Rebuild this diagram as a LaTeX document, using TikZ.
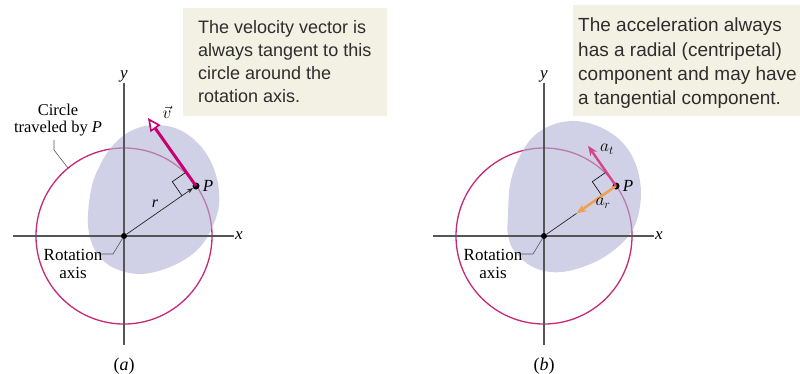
\documentclass[tikz,border=0pt]{standalone}
\usepackage{fontspec}
\setmainfont{Liberation Serif}
\newfontfamily\boxfont{Liberation Sans}
\usetikzlibrary{arrows.meta}
\definecolor{blobc}{RGB}{177,178,213}
\definecolor{boxc}{RGB}{242,241,228}
\definecolor{circc}{RGB}{198,40,118}
\definecolor{velc}{RGB}{200,0,110}
\definecolor{atc}{RGB}{212,70,140}
\definecolor{arcol}{RGB}{240,160,80}
\definecolor{axc}{RGB}{85,85,85}
\definecolor{txtc}{RGB}{45,45,45}
\begin{document}
\begin{tikzpicture}[x=1pt,y=-1pt,
  orbit/.style={draw=circc,line width=1.3pt},
  blob/.style={fill=blobc,fill opacity=0.6},
  axisline/.style={draw=axc,line width=1.1pt},
  axlabel/.style={font=\fontsize{17}{17}\selectfont\itshape,inner sep=1.5pt},
  dot/.style={circle,fill=black,inner sep=0pt,minimum size=7pt},
  odot/.style={circle,fill=black,inner sep=0pt,minimum size=6pt},
  lbl/.style={font=\fontsize{16.5}{17}\selectfont,align=center,inner sep=0pt},
  leader/.style={draw=axc,line width=0.6pt},
  infobox/.style={fill=boxc,draw=none},
  infotext/.style={font=\boxfont,text=txtc,align=left,inner sep=0pt,anchor=north west},
  ralign/.style={draw=black,line width=0.6pt},
  radius vec/.style={draw=black!85,line width=0.7pt},
  captionlbl/.style={font=\fontsize{18}{18}\selectfont,inner sep=0pt},
]
\useasboundingbox (0,0) rectangle (800,373);

% ================= panel (a) =================
\coordinate (Oa) at (124,236);
\draw[orbit] (Oa) circle[radius=88pt];
\fill[blob] plot[smooth cycle,tension=0.6] coordinates {
 (88,225) (91,190) (100,165) (115,143) (135,129) (158,125) (182,131) (203,149)
 (216,175) (219,205) (210,232) (195,252) (170,267) (140,274) (112,267) (95,250)};
\node[axlabel] (xa) at (239,236) {x};
\node[axlabel] (ya) at (124,76) {y};
\coordinate (xaL) at (13,236);
\coordinate (yaB) at (124,345);
\draw[axisline] (xaL) -- (xa);
\draw[axisline] (ya) -- (yaB);
\node[odot] (Oad) at (Oa) {};
\node[dot] (Pa) at (196,186) {};
\node[font=\fontsize{17}{17}\selectfont\itshape,inner sep=0pt] (PaL) at (208,186) {P};
\coordinate (va) at (148,118);
\draw[ralign] (186.3,172.0) -- (172.3,181.7) -- (182.0,195.7);
\draw[radius vec,-{Stealth[length=6pt,width=4.5pt]}] (Oad) -- (Pa);
\node[font=\fontsize{16}{16}\selectfont\itshape,inner sep=0pt] (ra) at (155,204) {r};
\draw[velc,line width=3pt,-{Triangle[open,fill=white,line width=1.6pt,length=13pt,width=12pt]}] (Pa.center) -- (va);
\node[inner sep=0pt,font=\fontsize{17}{17}\selectfont] (vl) at (167,112) {$\vec{v}$};
% labels
\node[lbl] (cla) at (58,120) {Circle\\traveled by \textit{P}};
\coordinate (cla1) at (54,150);
\coordinate (cla2) at (68,168);
\draw[leader] (cla.south -| cla1) ++(0,4) -- (cla1) -- (cla2);
\node[lbl,font=\fontsize{17}{18}\selectfont] (rla) at (73,264) {Rotation\\axis};
\coordinate (rla1) at (113,254);
\draw[leader] (rla.east |- rla1) ++(-1,0) -- (rla1) -- (Oad);
\node[captionlbl] (capa) at (124,366) {(\textit{a})};
% info box
\node[infobox,minimum width=204pt,minimum height=108pt,anchor=north west,inner sep=0pt] (boxa) at (183,8) {};
\node[infotext,font=\boxfont\fontsize{18}{23}\selectfont] (ta) at (198,20)
 {The velocity vector is\\always tangent to this\\circle around the\\rotation axis.};

% ================= panel (b) =================
\coordinate (Ob) at (544,236);
\draw[orbit] (Ob) circle[radius=88pt];
\fill[blob] plot[smooth cycle,tension=0.6] coordinates {
 (508,215) (510,185) (518,160) (532,138) (552,125) (575,121) (600,127) (622,142)
 (636,165) (641,195) (635,225) (620,245) (595,262) (562,272) (535,268) (515,252) (508,235)};
\node[axlabel] (xb) at (659,236) {x};
\node[axlabel] (yb) at (544,76) {y};
\coordinate (xbL) at (433,236);
\coordinate (ybB) at (544,345);
\draw[axisline] (xbL) -- (xb);
\draw[axisline] (yb) -- (ybB);
\node[odot] (Obd) at (Ob) {};
\node[dot] (Pb) at (616,186) {};
\node[font=\fontsize{17}{17}\selectfont\itshape,inner sep=0pt] (PbL) at (628,186) {P};
\coordinate (atT) at (588,145.7);
\coordinate (arT) at (576.5,213.4);
\draw[ralign] (606.3,172.0) -- (592.3,181.7) -- (602.0,195.7);
\draw[radius vec] (Obd) -- (arT);
\draw[arcol,line width=2.6pt,-{Stealth[length=10pt,width=8pt]}] (Pb.center) -- (arT);
\draw[atc,line width=2.4pt,-{Stealth[length=10pt,width=8pt]}] (Pb.center) -- (atT);
\node[inner sep=0pt,font=\fontsize{17}{17}\selectfont] (atl) at (607,149) {$a_t$};
\node[inner sep=0pt,font=\fontsize{17}{17}\selectfont] (arl) at (603,203) {$a_r$};
\node[lbl,font=\fontsize{17}{18}\selectfont] (rlb) at (493,264) {Rotation\\axis};
\coordinate (rlb1) at (533,254);
\draw[leader] (rlb.east |- rlb1) ++(-1,0) -- (rlb1) -- (Obd);
\node[captionlbl] (capb) at (544,366) {(\textit{b})};
\node[infobox,minimum width=227pt,minimum height=111pt,anchor=north west,inner sep=0pt] (boxb) at (573,5) {};
\node[infotext,font=\boxfont\fontsize{19}{24.3}\selectfont] (tb) at (578,18)
 {The acceleration always\\has a radial (centripetal)\\component and may have\\a tangential component.};
\end{tikzpicture}
\end{document}
